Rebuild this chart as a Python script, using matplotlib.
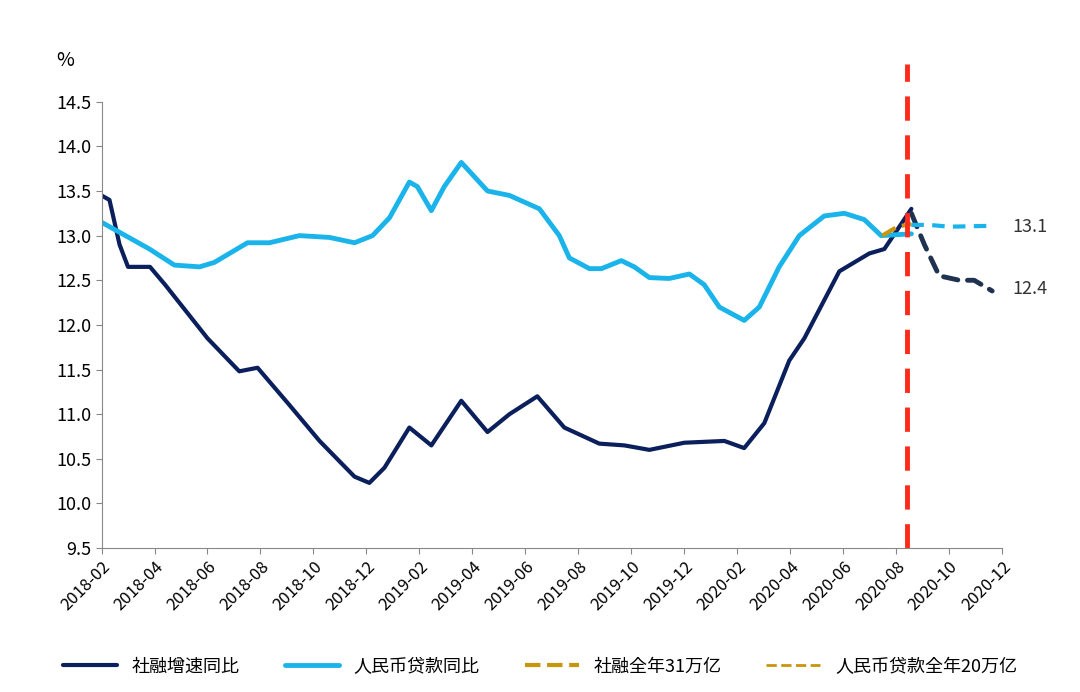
import matplotlib.pyplot as plt
from matplotlib import font_manager

# 找一个可用的中文字体
cjk = None
for name in ['Noto Sans CJK SC', 'Noto Sans CJK JP', 'Noto Sans CJK TC', 'Noto Sans CJK KR']:
    try:
        font_manager.findfont(name, fallback_to_default=False)
        cjk = name
        break
    except Exception:
        pass
if cjk is None:
    for f in font_manager.fontManager.ttflist:
        if 'CJK' in f.name:
            cjk = f.name
            break
plt.rcParams['font.family'] = [cjk, 'DejaVu Sans'] if cjk else ['DejaVu Sans']

# 月份序号：0 = 2018-02
tick_labels = ['2018-02', '2018-04', '2018-06', '2018-08', '2018-10', '2018-12',
               '2019-02', '2019-04', '2019-06', '2019-08', '2019-10', '2019-12',
               '2020-02', '2020-04', '2020-06', '2020-08', '2020-10', '2020-12']

sf_m = [0, 0.3, 0.68, 1, 1.83, 2.4, 4.0, 5.2, 5.89, 7.1, 8.23, 9.55, 10.11, 10.68, 11.62,
        12.45, 13.58, 14.57, 15.4, 16.45, 17.47, 18.79, 19.74, 20.68, 22.0, 23.51, 24.26,
        25.02, 25.96, 26.53, 27.85, 28.98, 29.55, 30.57]
sf_v = [13.45, 13.4, 12.9, 12.65, 12.65, 12.45, 11.85, 11.48, 11.52, 11.1, 10.7, 10.3, 10.23,
        10.4, 10.85, 10.65, 11.15, 10.8, 11.0, 11.2, 10.85, 10.67, 10.65, 10.6, 10.68, 10.7,
        10.62, 10.9, 11.6, 11.85, 12.6, 12.8, 12.85, 13.3]

sf_fc_m = [30.57, 31.06, 31.62, 32.38, 32.94, 33.62]
sf_fc_v = [13.25, 12.9, 12.55, 12.5, 12.5, 12.38]

loan_m = [0, 1.81, 2.75, 3.7, 4.26, 5.51, 6.34, 7.47, 8.6, 9.55, 10.23, 10.87, 11.62, 11.92,
          12.45, 12.94, 13.58, 14.57, 15.4, 16.53, 17.28, 17.66, 18.42, 18.87, 19.62, 20.11,
          20.68, 21.43, 22.19, 22.75, 23.32, 24.26, 24.83, 25.58, 26.34, 27.28, 28.04, 28.79,
          29.43, 30.57]
loan_v = [13.15, 12.85, 12.67, 12.65, 12.7, 12.92, 12.92, 13.0, 12.98, 12.92, 13.0, 13.2,
          13.6, 13.55, 13.28, 13.55, 13.82, 13.5, 13.45, 13.3, 13.0, 12.75, 12.63, 12.63,
          12.72, 12.65, 12.53, 12.52, 12.57, 12.45, 12.2, 12.05, 12.2, 12.65, 13.0, 13.22,
          13.25, 13.18, 13.0, 13.02]

loan_fc_m = [30.57, 31.25, 32.0, 33.62]
loan_fc_v = [13.12, 13.12, 13.1, 13.11]

gold_m = [29.47, 30.04, 30.57]
gold_v = [13.0, 13.1, 13.13]

cut_m = 30.42

fig = plt.figure(figsize=(10.8, 6.92), dpi=100)
ax = fig.add_axes([0.094, 0.208, 0.834, 0.645])

navy = '#0b1f5c'
cyan = '#1ab4ea'
gold = '#c8960c'

kw = dict(solid_joinstyle='round', solid_capstyle='round')
ax.plot(sf_m, sf_v, color=navy, lw=3, label='社融增速同比', **kw)
ax.plot(loan_m, loan_v, color=cyan, lw=3.5, label='人民币贷款同比', **kw)
ax.plot(gold_m, gold_v, color=gold, lw=3, ls='--', label='社融全年31万亿')
ax.plot([], [], color=gold, lw=2, ls='--', label='人民币贷款全年20万亿')
ax.plot(sf_fc_m, sf_fc_v, color='#1f3350', lw=3.5, ls=(0, (3, 2)), dash_capstyle='round')
ax.plot(loan_fc_m, loan_fc_v, color=cyan, lw=3, ls=(0, (3, 2)))
ax.plot([cut_m, cut_m], [9.5, 14.92], color='#ff2a1a', lw=3.5, ls=(0, (5, 3)), clip_on=False)

ax.text(34.4, 13.1, '13.1', fontsize=13, va='center', color='#333333')
ax.text(34.4, 12.4, '12.4', fontsize=13, va='center', color='#333333')

ax.set_xlim(0, 34)
ax.set_ylim(9.5, 14.5)
ax.set_xticks(range(0, 35, 2))
ax.set_xticklabels(tick_labels, rotation=45, ha='right', rotation_mode='anchor', fontsize=12)
ax.set_yticks([9.5 + 0.5 * i for i in range(11)])
ax.set_yticklabels(['%.1f' % (9.5 + 0.5 * i) for i in range(11)], fontsize=13)
ax.tick_params(direction='out', color='#888888', length=4)
for s in ['top', 'right']:
    ax.spines[s].set_visible(False)
for s in ['left', 'bottom']:
    ax.spines[s].set_color('#888888')
fig.text(0.052, 0.905, '%', fontsize=14)

fig.legend(loc='lower center', bbox_to_anchor=(0.5, 0.0), ncol=4, frameon=False,
           fontsize=13, handlelength=3, columnspacing=2.5)

fig.savefig('out.png', dpi=100)
